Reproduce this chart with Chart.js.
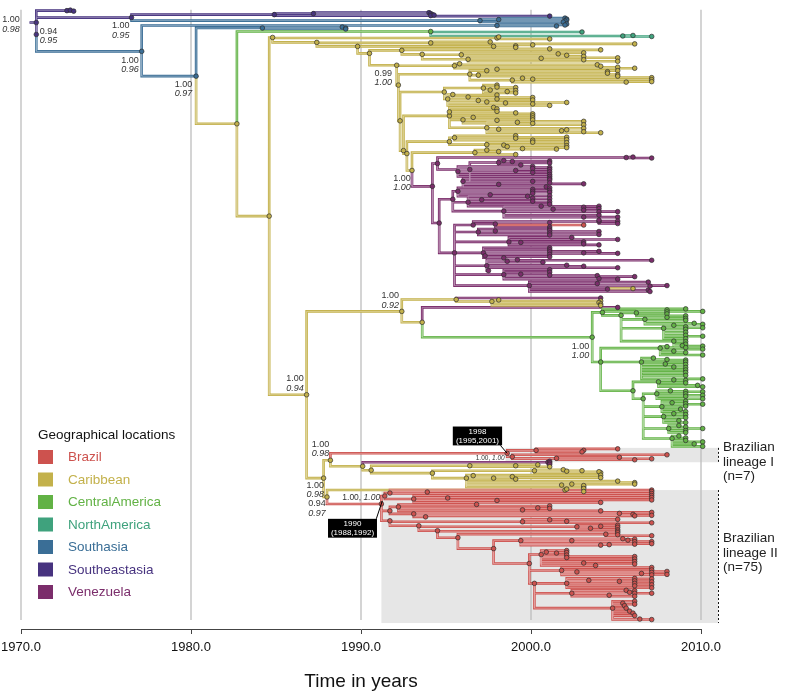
<!DOCTYPE html>
<html>
<head>
<meta charset="utf-8">
<title>Brazilian lineages - time tree</title>
<script src="https://cdn.jsdelivr.net/npm/chart.js@4.4.1/dist/chart.umd.min.js"></script>
<style>
  html, body { margin: 0; padding: 0; background: #fff; }
  canvas { display: block; }
</style>
</head>
<body>
<canvas id="chart" width="788" height="694"></canvas>
<script>
// --- LOCATIONS --- //
const locNames = ["Brazil", "Caribbean", "CentralAmerica", "NorthAmerica", "Southasia", "Southeastasia", "Venezuela"];
const locCodes = ["B", "C", "A", "N", "S", "E", "V"];
const locColors = ["#cd524e", "#c3b14b", "#62b245", "#3fa27d", "#3a6e96", "#47337f", "#7b2d6b"];

const tickYears = [1970, 1980, 1990, 2000, 2010];

// --- TREE (node = [year, row, location, children], tip = [year, row] or [year, row, location]) --- //
const venezuelaA = [1994.5, 160, "V", [
  [2005.6, 154, "V", [[2006.0, 153.5], [2007.1, 154.5]]],
  [1996.4, 166, "V", [
    [1998.1, 159, "V", [[1998.4, 157], [1998.9, 158], [2001.1, 157.5], [2001.1, 159.5], [1999.4, 161.5]]],
    [1995.7, 168, "V", [[1999.1, 167], [2000.1, 163], [2000.1, 165], [2000.1, 169], [2001.1, 164], [2001.1, 166], [2001.1, 168.5], [2001.1, 171], [2001.1, 173]]],
    [1996.0, 178, "V", [[1998.1, 181], [2000.1, 178], [2003.1, 180.5], [2000.9, 183.5], [2001.1, 175], [2001.1, 176.5], [2001.1, 179.5]]]
  ]]
]];

const venezuelaB = [1995.4, 196, "V", [
  [1995.7, 188, "V", [[1997.6, 191.5], [1999.8, 193], [2000.1, 186], [2000.1, 188], [2000.1, 190], [2001.1, 184.5], [2001.1, 187], [2001.1, 189]]],
  [1996.3, 199, "V", [[1997.1, 196.5], [2000.1, 195], [2000.1, 198], [2001.1, 192.5], [2001.1, 195.5], [2001.1, 198.5], [2001.1, 201], [2000.6, 203]]],
  [1998.4, 208, "V", [[2001.3, 206], [2003.1, 204], [2003.1, 207], [2004.0, 203], [2004.0, 205.5], [2004.0, 208.5], [2005.1, 208.5], [2004.0, 212], [2003.1, 214], [2005.1, 214]]]
]];

const venezuelaC = [1995.5, 250, "V", [
  [1996.6, 222, "V", [
    [1997.9, 221, "V", [[2003.1, 222, "B"], [2001.1, 219.5], [2001.1, 224]]],
    [2004.0, 218.5, "V", [[2004.0, 217], [2005.1, 218], [2005.1, 220.5]]]
  ]],
  [1996.9, 229, "V", [[1997.9, 228], [2001.1, 226], [2001.1, 227.5], [2001.1, 230], [2004.0, 228.5], [2004.0, 231.5], [2001.1, 232]]],
  [1998.7, 239, "V", [[1999.4, 239.5], [2002.4, 234.5], [2003.1, 239], [2003.1, 241], [2004.0, 242], [2005.1, 236.5]]],
  [1997.2, 250, "V", [[1997.3, 253], [1998.4, 255], [2001.1, 245], [2001.1, 247], [2001.1, 249], [2001.1, 251.5], [2001.1, 254], [2003.1, 250], [2004.0, 248.5], [2005.1, 250.5]]],
  [1997.4, 263, "V", [[1998.6, 258.5], [1999.2, 257], [2000.7, 259.5], [2002.1, 262.5], [2003.1, 263.5], [2005.1, 265], [2007.1, 257.5], [1997.5, 268]]],
  [1998.4, 272, "V", [[1999.4, 271.5], [2001.1, 267], [2001.1, 269.5], [2001.1, 272.5], [2003.9, 273], [2004.0, 276], [2005.1, 276.5], [2006.1, 274]]],
  [1999.9, 283, "V", [
    [2003.9, 281],
    [2004.5, 286.5, "V", [[2006.0, 286, "C"], [2006.9, 287.5]]],
    [2006.9, 279.5], [2007.0, 283.5], [2007.0, 289], [2008.0, 283]
  ]]
]];

const venezuela = [1994.2, 183, "V", [venezuelaA, [1994.6, 220, "V", [venezuelaB, venezuelaC]]]];

const caribTopLower = [1992.5, 147, "C", [
  [1995.2, 112, "C", [
    [1995.2, 108, "C", [[1997.8, 103.5], [1998.0, 105], [1998.0, 107.5], [1999.1, 109], [2000.1, 110], [2000.1, 112], [2000.1, 114]]],
    [1996.0, 116, "C", [[1996.6, 113.5], [1998.0, 116.5], [2000.1, 116], [2000.1, 119.5], [1999.2, 118.5]]],
    [1997.4, 124, "C", [[1998.1, 125.5], [2001.8, 127], [2002.1, 126], [2003.1, 117.5], [2003.1, 121], [2003.1, 124.5], [2003.1, 128], [2004.1, 129]]]
  ]],
  [1992.7, 150, "C", [
    [1995.2, 138, "C", [
      [1995.5, 134, "C", [[1999.1, 132], [1999.1, 134.5], [2000.1, 136.5], [2002.1, 133.5], [2002.1, 136]]],
      [1997.4, 141, "C", [[1998.4, 141.5], [1998.6, 143], [2000.1, 138.5], [2002.1, 139], [2002.1, 142], [1999.5, 145], [2001.5, 145.5], [2002.1, 144]]]
    ]],
    [1993.0, 167, "C", [
      [1996.7, 149, "C", [[1997.4, 146.5], [1998.1, 148], [1999.1, 151]]],
      venezuela
    ]]
  ]]
]];

const caribTopMid = [1992.2, 81, "C", [
  [1996.4, 70, "C", [
    [1997.4, 66.5, "C", [[1998.0, 65], [2004.5, 67.5], [2005.1, 66.5]]],
    [1996.9, 71, "C", [[2004.5, 69], [2005.1, 70.5], [2005.1, 72]]],
    [1998.9, 76, "C", [[1999.5, 74], [2000.1, 75], [2005.6, 78], [2007.1, 73.5], [2007.1, 75.5], [2007.1, 77.5]]]
  ]],
  [1992.3, 117, "C", [
    [1994.9, 88, "C", [
      [1997.2, 84, "C", [[1997.6, 86], [1998.0, 81], [1998.0, 83], [1998.6, 87.5], [1999.1, 83.5], [1999.1, 86.5], [1999.1, 89]]],
      [1995.1, 95, "C", [[1995.4, 90.5], [1996.3, 93], [1996.9, 96.5], [1997.4, 98], [1998.0, 91], [1998.0, 95], [1998.5, 99], [2000.1, 93.5], [2000.1, 96], [2000.1, 100], [2001.1, 101.5], [2002.1, 98.5]]]
    ]],
    caribTopLower
  ]]
]];

const caribTop = [1984.8, 33, "C", [
  [1998.0, 33.5, "C", [[1998.1, 32.5], [2001.1, 34.5]]],
  [1987.4, 38, "C", [
    [1994.1, 38.5, "C", [[1997.6, 37.5], [2006.1, 39.5]]],
    [1989.8, 42, "C", [
      [1997.8, 42, "C", [[1999.1, 41.5], [1999.1, 43], [2000.1, 40.5]]],
      [1990.5, 49, "C", [
        [1992.4, 46, "C", [
          [2001.1, 44.5], [2004.1, 45.5],
          [1993.6, 50, "C", [
            [1995.9, 50.5, "C", [[2001.6, 49.5], [2002.1, 51], [2003.1, 48.5], [2003.1, 52]]],
            [1996.3, 55, "C", [[2000.6, 54], [2003.1, 55.5], [2005.1, 53.5], [2005.1, 57]]]
          ]]
        ]],
        [1992.1, 61, "C", [
          [1995.5, 61.5, "C", [[1995.8, 59.5], [2003.9, 60.5], [2004.1, 62], [2005.1, 63], [2006.1, 64]]],
          caribTopMid
        ]]
      ]]
    ]]
  ]]
]];

const centralAmerica = [2003.6, 335, "A", [
  [2004.2, 310, "A", [
    [2009.1, 306.5], [2010.1, 309],
    [2005.3, 313, "A", [
      [2006.2, 310.5, "A", [[2008.0, 307.5], [2008.0, 309.5], [2008.0, 311.5], [2009.1, 313.5]]],
      [2006.7, 317, "A", [[2008.0, 315], [2009.1, 316], [2009.1, 318], [2010.1, 322], [2009.6, 321]]],
      [2007.8, 326, "A", [[2008.4, 323], [2009.1, 324.5], [2009.1, 327], [2010.1, 325.5], [2009.1, 330], [2010.1, 334], [2009.1, 333], [2009.1, 336.5]]],
      [2008.4, 339, "A", [[2009.1, 339.5], [2009.1, 342], [2010.1, 344], [2008.9, 343.5]]]
    ]]
  ]],
  [2004.1, 360, "A", [
    [2007.6, 346, "A", [[2008.0, 344.5], [2009.1, 345.5], [2010.1, 347], [2008.4, 349], [2009.1, 350.5], [2010.1, 353]]],
    [2006.5, 360, "A", [[2007.2, 356], [2008.0, 357.5], [2009.1, 358], [2009.1, 360], [2007.9, 362], [2009.1, 362.5], [2008.4, 365], [2009.1, 365.5], [2009.1, 368], [2009.1, 370.5], [2010.1, 377], [2009.1, 373.5]]],
    [2006.0, 389, "A", [
      [2007.5, 380, "A", [[2008.4, 378], [2009.1, 378.5], [2009.1, 381], [2010.1, 385], [2009.8, 383.5]]],
      [2006.6, 397, "A", [
        [2007.4, 392, "A", [[2008.2, 389], [2009.1, 389.5], [2010.1, 390], [2009.1, 392], [2010.1, 393.5], [2009.1, 394.5], [2010.1, 397]]],
        [2007.7, 405, "A", [[2008.3, 401], [2009.1, 399.5], [2009.1, 402], [2009.1, 404.5], [2008.8, 407.5], [2009.1, 410], [2010.1, 402.5]]],
        [2007.8, 415, "A", [[2008.4, 412], [2009.1, 413], [2009.1, 416], [2008.7, 419], [2009.1, 421]]],
        [2008.1, 427, "A", [[2008.7, 424], [2009.1, 425.5], [2010.1, 427], [2009.1, 429], [2009.1, 431]]],
        [2008.3, 437, "A", [[2008.7, 434.5], [2009.1, 436.5], [2009.1, 439], [2010.1, 440.5], [2009.6, 442.5], [2010.1, 445]]]
      ]]
    ]]
  ]]
]];

const caribVenez = [1992.4, 309, "C", [
  [1995.6, 297, "C", [
    [2004.1, 295.5, "V"],
    [1997.7, 299, "C", [[1998.1, 297.5], [2004.1, 298.5], [2004.0, 300], [2004.1, 301.5], [2004.1, 303]]]
  ]],
  [1993.6, 320, "C", [[2005.1, 305, "V"], centralAmerica]]
]];

const brazil1 = [1998.6, 452, "B", [
  [2000.3, 449, "B", [[2005.1, 447.5], [2003.1, 449], [2003.0, 450.5]]],
  [1998.9, 455.5, "B", [[2008.0, 453.5], [2001.5, 457, "B", [[2005.2, 456], [2006.1, 458.5]]], [2007.1, 457.5]]]
]];

const caribMid = [1990.1, 465, "C", [
  [2001.0, 461, "V", [[2001.1, 460], [2001.1, 461.5], [2001.1, 463]]],
  [1990.6, 469, "C", [
    [1996.4, 464.5, "C", [[1999.1, 464.5], [2000.4, 463.5], [2001.1, 465.5]]],
    [1994.2, 472, "C", [
      [2000.2, 469.5, "C", [[2001.9, 468.5], [2002.1, 470], [2003.0, 469.5], [2004.1, 471.5], [2004.0, 470.5]]],
      [1996.2, 477, "C", [[1996.6, 474.5], [1997.8, 477], [1998.9, 475.5], [1999.1, 478], [2004.1, 474], [2004.1, 476.5], [2005.1, 480], [2006.1, 481.5], [2006.1, 483], [2001.8, 484], [2002.4, 483], [2003.1, 486], [2003.1, 484.5]]]
    ]]
  ]]
]];

const brazil2Lower = [1999.9, 563, "B", [
  [2000.6, 554, "B", [[2000.9, 551.5], [2001.5, 552.5], [2002.1, 550], [2002.1, 552], [2002.1, 554.5], [2002.1, 557], [2003.1, 562.5], [2003.8, 565], [2006.1, 556], [2006.1, 558.5], [2006.1, 561], [2006.1, 563.5]]],
  [2001.8, 570, "B", [[2002.7, 571.5], [2006.5, 573], [2007.1, 567], [2007.1, 569.5], [2007.1, 572], [2007.1, 574.5], [2008.0, 571], [2008.0, 574]]],
  [2000.2, 583, "B", [
    [2002.1, 583, "B", [[2003.4, 580], [2005.2, 581], [2006.1, 578], [2006.1, 580.5], [2006.1, 583], [2006.1, 585.5], [2007.1, 578.5], [2007.1, 581.5], [2007.1, 584.5], [2007.1, 587.5]]],
    [2002.4, 593, "B", [[2004.6, 595], [2005.6, 590], [2005.8, 592], [2006.1, 590.5], [2006.1, 593], [2006.1, 596], [2007.1, 593]]],
    [2004.8, 608, "B", [[2005.4, 603], [2005.5, 605.5], [2005.6, 608], [2005.8, 611], [2006.0, 613], [2006.1, 615.5], [2006.4, 619], [2007.1, 619.5], [2006.1, 601], [2006.1, 604]]]
  ]]
]];

const brazil2 = [1991.2, 503, "B", [
  [1991.4, 495, "B", [
    [1991.7, 492, "B", [[1993.9, 491], [2007.1, 489], [2007.1, 490.5], [2007.1, 492.5]]],
    [1993.1, 498, "B", [[1995.1, 497], [1998.0, 499.5], [2004.1, 501.5], [2007.1, 494.5], [2007.1, 496.5], [2007.1, 499]]]
  ]],
  [1991.7, 510, "B", [
    [1992.2, 506, "B", [[1996.8, 503.5], [1999.5, 509], [2000.4, 507], [2001.1, 505], [2001.1, 507.5], [2004.1, 510]]],
    [1993.1, 513, "B", [[2005.2, 512.5], [2006.0, 513.5], [2006.1, 515], [2007.1, 511.5], [2007.1, 514.5], [1993.8, 516]]]
  ]],
  [1991.7, 520, "B", [
    [1999.5, 521, "B", [[2001.1, 519], [2002.1, 520.5], [2005.1, 518.5], [2007.1, 522]]],
    [1993.4, 525, "B", [
      [2002.7, 526, "B", [[2003.5, 527.5], [2004.1, 525.5], [2005.1, 524.5], [2005.1, 526.5], [2005.1, 529]]],
      [1994.5, 530, "B", [
        [2005.1, 530.5],
        [1995.7, 537, "B", [
          [2004.4, 533.5, "B", [[2005.1, 532], [2005.1, 534], [2007.1, 535]]],
          [1997.8, 548, "B", [
            [1999.4, 540, "B", [[2002.4, 540], [2004.1, 544.5], [2004.6, 544], [2005.4, 538], [2005.7, 539.5], [2006.1, 538.5], [2006.1, 541], [2006.1, 543.5], [2007.1, 541], [2007.1, 543]]],
            brazil2Lower
          ]]
        ]]
      ]]
    ]]
  ]]
]];

const americas = [1986.8, 393, "C", [
  caribVenez,
  [1987.8, 477, "C", [
    [1988.2, 459, "C", [brazil1, caribMid]],
    [1988.0, 496, "C", [[2002.0, 489, "C", [[2002.1, 488], [2003.1, 487.5], [2003.1, 490.5]]], brazil2]]
  ]]
]];

const northAmerica = [1994.1, 27, "A", [
  [2003.0, 27.5, "N"],
  [2005.4, 31.5, "N", [[2006.0, 31], [2007.1, 32]]]
]];

const caribbean = [1982.7, 120, "C", [northAmerica, [1984.6, 213, "C", [caribTop, americas]]]];

const southAsia = [1977.1, 47, "S", [
  [1998.0, 21, "S", [[2002.1, 19.5], [2002.0, 20.5], [2001.5, 21.5]]],
  [1980.3, 72, "S", [
    [1984.2, 23.5, "S", [[1988.9, 22.5], [1989.1, 23.5], [1989.1, 24.5]]],
    caribbean
  ]]
]];

const southeastAsia = [1976.5, 13, "E", [
  [1984.9, 10, "E", [
    [1987.2, 9, "E", [[1994.0, 8], [1994.1, 9], [1994.2, 10]]],
    [1994.1, 11, "E", [[1994.3, 10.5], [2001.1, 11.5]]]
  ]],
  [1997.0, 16, "S", [
    [1998.1, 15, "S", [[2002.0, 13.5], [2002.1, 14.5], [2002.1, 15.5], [2002.0, 16.5]]],
    [2001.9, 17.5]
  ]]
]];

const rootStart = 1970.5;
const root = [1970.9, 18, "E", [
  [1972.7, 6, "E", [[1972.9, 5.5], [1973.1, 6.5]]],
  [1970.9, 30, "E", [southeastAsia, southAsia]]
]];

// --- ANNOTATIONS --- //
// posterior support: [year, row, value, italic value]
const supportLabels = [
  [1968.9, 15, "1.00", "0.98"],
  [1971.1, 27, "0.94", "0.95"],
  [1975.35, 21, "1.00", "0.95"],
  [1975.9, 56, "1.00", "0.96"],
  [1979.05, 80, "1.00", "0.97"],
  [1990.8, 69, "0.99", "1.00"],
  [1991.9, 175, "1.00", "1.00"],
  [1991.2, 293, "1.00", "0.92"],
  [1985.6, 377, "1.00", "0.94"],
  [2002.4, 344, "1.00", "1.00"],
  [1987.1, 443, "1.00", "0.98"],
  [1986.8, 484, "1.00", "0.98"],
  [1986.9, 503, "0.94", "0.97"]
];
const inlineSupport = [
  [1988.9, 497, 8.5],
  [1996.75, 457, 6.5]
];
const dateBoxes = [
  { lines: ["1998", "(1995,2001)"], x0: 1995.4, x1: 1998.3, y0: 425, y1: 444, from: [1998.2, 444], to: [1998.6, 452] },
  { lines: ["1990", "(1988,1992)"], x0: 1988.06, x1: 1990.94, y0: 518, y1: 537, from: [1990.9, 518], to: [1991.25, 500] }
];
const lineageBoxes = [
  { x0: 1998.5, x1: 2011.0, y0: 446.5, y1: 461, lines: ["Brazilian", "lineage I", "(n=7)"], textRow: 446 },
  { x0: 1991.2, x1: 2011.0, y0: 489, y1: 623, lines: ["Brazilian", "lineage II", "(n=75)"], textRow: 538 }
];

// --- BUILD LINE / POINT DATA --- //
const segs = {}, nodes = {};
locCodes.forEach(c => { segs[c] = []; nodes[c] = []; });

function walk(n, pt, py, ploc) {
  const loc = typeof n[2] === "string" ? n[2] : ploc;
  segs[loc].push({ x: pt, y: py }, { x: pt, y: n[1] }, { x: n[0], y: n[1] }, { x: NaN, y: NaN });
  nodes[loc].push({ x: n[0], y: n[1] });
  if (Array.isArray(n[3])) n[3].forEach(c => walk(c, n[0], n[1], loc));
}
walk(root, rootStart, root[1], root[2]);

function mix(hex, f) {
  const v = parseInt(hex.slice(1), 16);
  const r = v >> 16, g = (v >> 8) & 255, b = v & 255;
  const m = c => Math.round(c + (255 - c) * f);
  return `rgb(${m(r)},${m(g)},${m(b)})`;
}

const datasets = [];
locCodes.forEach((c, i) => {
  datasets.push({ data: segs[c].slice(), showLine: true, borderColor: locColors[i], borderWidth: 2.6, pointRadius: 0, order: 3, clip: false, spanGaps: false });
  datasets.push({ data: segs[c].slice(), showLine: true, borderColor: mix(locColors[i], 0.45), borderWidth: 0.8, pointRadius: 0, order: 2, clip: false, spanGaps: false });
  datasets.push({ data: nodes[c], showLine: false, pointRadius: 2.3, pointBackgroundColor: locColors[i], pointBorderColor: "#2e2e2e", pointBorderWidth: 0.7, order: 1, clip: false });
});

// --- DECORATIONS --- //
const FONT = "'Liberation Sans', Arial, sans-serif";

const treeDecor = {
  id: "treeDecor",
  beforeDatasetsDraw(chart) {
    const { ctx, scales: { x, y } } = chart;
    ctx.save();
    ctx.fillStyle = "#e6e6e6";
    lineageBoxes.forEach(b => {
      const x0 = x.getPixelForValue(b.x0), y0 = y.getPixelForValue(b.y0);
      ctx.fillRect(x0, y0, x.getPixelForValue(b.x1) - x0, y.getPixelForValue(b.y1) - y0);
    });
    ctx.strokeStyle = "#bdbdbd";
    ctx.lineWidth = 1.3;
    tickYears.forEach(t => {
      const px = x.getPixelForValue(t);
      ctx.beginPath();
      ctx.moveTo(px, y.getPixelForValue(5));
      ctx.lineTo(px, y.getPixelForValue(620));
      ctx.stroke();
    });
    ctx.restore();
  },
  afterDatasetsDraw(chart) {
    const { ctx, scales: { x, y } } = chart;
    ctx.save();
    ctx.textBaseline = "middle";
    ctx.textAlign = "left";
    ctx.fillStyle = "#333";

    supportLabels.forEach(([t, r, a, b]) => {
      const px = x.getPixelForValue(t), py = y.getPixelForValue(r);
      ctx.font = "9px " + FONT;
      ctx.fillText(a, px, py);
      ctx.font = "italic 9px " + FONT;
      ctx.fillText(b, px, py + 9.5);
    });

    inlineSupport.forEach(([t, r, size]) => {
      const px = x.getPixelForValue(t), py = y.getPixelForValue(r);
      ctx.font = size + "px " + FONT;
      ctx.fillText("1.00, ", px, py);
      const w = ctx.measureText("1.00, ").width;
      ctx.font = "italic " + size + "px " + FONT;
      ctx.fillText("1.00", px + w, py);
    });

    // node-age boxes
    dateBoxes.forEach(b => {
      ctx.strokeStyle = "#000";
      ctx.lineWidth = 1;
      ctx.beginPath();
      ctx.moveTo(x.getPixelForValue(b.from[0]), y.getPixelForValue(b.from[1]));
      ctx.lineTo(x.getPixelForValue(b.to[0]), y.getPixelForValue(b.to[1]));
      ctx.stroke();
      const x0 = x.getPixelForValue(b.x0), x1 = x.getPixelForValue(b.x1);
      const y0 = y.getPixelForValue(b.y0), y1 = y.getPixelForValue(b.y1);
      ctx.fillStyle = "#000";
      ctx.fillRect(x0, y0, x1 - x0, y1 - y0);
      ctx.fillStyle = "#fff";
      ctx.font = "8px " + FONT;
      ctx.textAlign = "center";
      ctx.fillText(b.lines[0], (x0 + x1) / 2, y0 + 5);
      ctx.fillText(b.lines[1], (x0 + x1) / 2, y0 + 14);
      ctx.textAlign = "left";
    });

    // lineage markers on the right
    lineageBoxes.forEach(b => {
      const px = x.getPixelForValue(b.x1);
      ctx.strokeStyle = "#111";
      ctx.lineWidth = 1;
      ctx.setLineDash([2, 2]);
      ctx.beginPath();
      ctx.moveTo(px + 0.5, y.getPixelForValue(b.y0));
      ctx.lineTo(px + 0.5, y.getPixelForValue(b.y1));
      ctx.stroke();
      ctx.setLineDash([]);
      ctx.fillStyle = "#222";
      ctx.font = "13.5px " + FONT;
      b.lines.forEach((s, i) => ctx.fillText(s, px + 5, y.getPixelForValue(b.textRow) + i * 14.5));
    });

    // legend
    ctx.fillStyle = "#111";
    ctx.font = "13.5px " + FONT;
    ctx.fillText("Geographical locations", 38, 435.5);
    locNames.forEach((name, i) => {
      const cy = 457 + i * 22.5;
      ctx.fillStyle = locColors[i];
      ctx.fillRect(38, cy - 7, 15, 14);
      ctx.fillText(name, 68, cy + 0.5);
    });
    ctx.restore();
  }
};

Chart.defaults.font.family = FONT;

new Chart(document.getElementById("chart"), {
  type: "scatter",
  data: { datasets },
  options: {
    responsive: false,
    animation: false,
    devicePixelRatio: 1,
    events: [],
    layout: { padding: { left: 21, right: 87, top: 0, bottom: 0 } },
    plugins: { legend: { display: false }, tooltip: { enabled: false } },
    scales: {
      x: {
        type: "linear",
        min: 1970,
        max: 2010,
        position: "bottom",
        afterFit(scale) { scale.height = 65; scale.paddingLeft = 0; scale.paddingRight = 0; },
        grid: { drawOnChartArea: false, drawTicks: true, tickLength: 5, color: "#444" },
        border: { display: true, color: "#444", width: 1 },
        ticks: { stepSize: 10, color: "#111", padding: 6, font: { size: 13 }, callback: v => v.toFixed(1) },
        title: { display: true, text: "Time in years", color: "#111", font: { size: 19 }, padding: { top: 0, bottom: 1 } }
      },
      y: { type: "linear", min: 0, max: 629, reverse: true, display: false }
    }
  },
  plugins: [treeDecor]
});
</script>
</body>
</html>
